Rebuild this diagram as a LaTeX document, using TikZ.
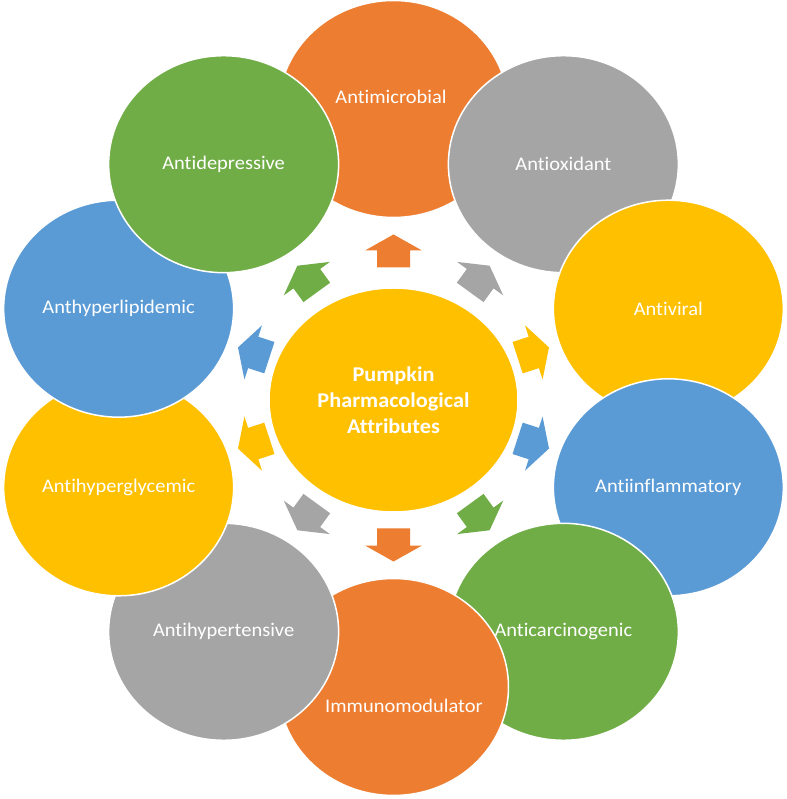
\documentclass[tikz,border=0pt]{standalone}
\usepackage{fontspec}
\setmainfont{Carlito}[FakeStretch=1.06, Ligatures=NoCommon]
\usetikzlibrary{shapes.geometric}
\definecolor{pkorange}{HTML}{ED7D31}
\definecolor{pkgray}{HTML}{A5A5A5}
\definecolor{pkyellow}{HTML}{FFC000}
\definecolor{pkblue}{HTML}{5B9BD5}
\definecolor{pkgreen}{HTML}{70AD47}
\newcommand{\pkarrow}[2]{%
  \begin{scope}[shift={(#1:147pt)}, rotate=#1]
    \fill[#2] (-16.5,-16.5) -- (0.5,-16.5) -- (0.5,-28.5) -- (16.5,0)
      -- (0.5,28.5) -- (0.5,16.5) -- (-16.5,16.5) -- cycle;
  \end{scope}}
\tikzset{
  bub/.style={ellipse, fill=#1, draw=white, line width=1.5pt,
    minimum width=230pt, minimum height=217pt, inner sep=0pt},
  hubstyle/.style={ellipse, fill=pkyellow, draw=white, line width=1.5pt,
    minimum width=249pt, minimum height=224pt, inner sep=0pt,
    text=white, align=center, font=\fontsize{21}{26}\selectfont\bfseries},
  lbl/.style={text=white, inner sep=0pt, font=\fontsize{19.3}{23}\selectfont}
}
\begin{document}
\begin{tikzpicture}[x=1pt, y=1pt]
\useasboundingbox (-393.5,-401) rectangle (392.5,398);
\fill[white] (-393.5,-401) rectangle (392.5,398);
% centre
\node[hubstyle] (hub) at (0,-2) {Pumpkin\\Pharmacological\\Attributes};
% arrows
\pkarrow{90}{pkorange}
\pkarrow{54}{pkgray}
\pkarrow{18}{pkyellow}
\pkarrow{-18}{pkblue}
\pkarrow{-54}{pkgreen}
\pkarrow{-90}{pkorange}
\pkarrow{-126}{pkgray}
\pkarrow{-162}{pkyellow}
\pkarrow{162}{pkblue}
\pkarrow{126}{pkgreen}
% outer bubbles
\node[bub=pkorange] (b1) at (90:289pt) {};
\node[bub=pkgray] (b2) at (54:289pt) {};
\node[bub=pkyellow] (b3) at (18:289pt) {};
\node[bub=pkblue] (b4) at (-18:289pt) {};
\node[bub=pkgreen] (b5) at (-54:289pt) {};
\node[bub=pkorange] (b6) at (-90:289pt) {};
\node[bub=pkgray] (b7) at (-126:289pt) {};
\node[bub=pkyellow] (b8) at (-162:289pt) {};
\node[bub=pkblue] (b9) at (162:289pt) {};
\node[bub=pkgreen] (b10) at (126:289pt) {};
% labels
\node[lbl] (t1) at (-2.5,301) {Antimicrobial};
\node[lbl] (t2) at (b2) {Antioxidant};
\node[lbl] (t3) at (b3) {Antiviral};
\node[lbl] (t4) at (b4) {Antiinflammatory};
\node[lbl] (t5) at (b5) {Anticarcinogenic};
\node[lbl] (t6) at (10.5,-308) {Immunomodulator};
\node[lbl] (t7) at (b7) {Antihypertensive};
\node[lbl] (t8) at (b8) {Antihyperglycemic};
\node[lbl] (t9) at (b9) {Anthyperlipidemic};
\node[lbl] (t10) at (b10) {Antidepressive};
\end{tikzpicture}
\end{document}
